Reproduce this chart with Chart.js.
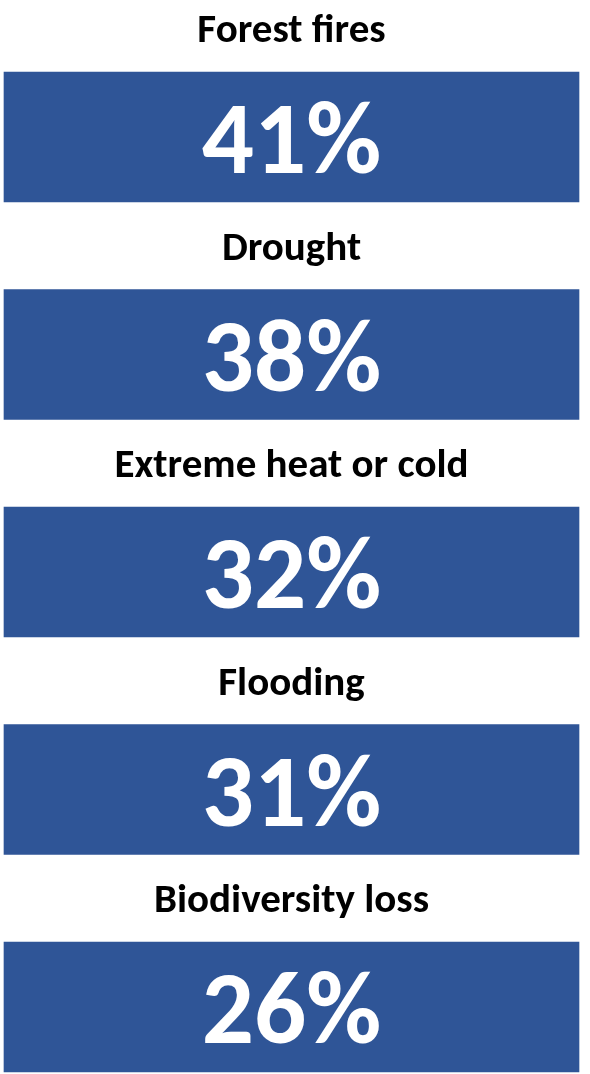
<!DOCTYPE html>
<html><head><meta charset="utf-8">
<script src="https://cdn.jsdelivr.net/npm/chart.js@4.4.1/dist/chart.umd.min.js"></script>
<style>html,body{margin:0;padding:0;background:#fff}#wrap{width:590px;height:1074px}</style>
</head><body><div id="wrap"><canvas id="c" width="590" height="1074"></canvas></div>
<script>
const categories = ["Forest fires","Drought","Extreme heat or cold","Flooding","Biodiversity loss"];
const percentValues = [41, 38, 32, 31, 26];
const tileSpan = [100, 100, 100, 100, 100];
const valueLabels = ["41%","38%","32%","31%","26%"];

const FONT = "Carlito, Lato, 'Open Sans', sans-serif";

const labelPlugin = {
  id: 'tileLabels',
  afterDatasetsDraw(chart) {
    const ctx = chart.ctx;
    const meta = chart.getDatasetMeta(0);
    meta.data.forEach((bar, i) => {
      const cx = (bar.base + bar.x) / 2;
      const cy = bar.y;
      const h = bar.height;
      ctx.save();
      ctx.textAlign = 'center';
      ctx.textBaseline = 'alphabetic';
      ctx.fillStyle = '#000000';
      ctx.font = "bold 41px " + FONT;
      ctx.fillText(categories[i], cx, cy - h / 2 - 30);
      ctx.fillStyle = '#ffffff';
      ctx.font = "bold 103px " + FONT;
      ctx.fillText(valueLabels[i], cx, cy + 36);
      ctx.restore();
    });
  }
};

new Chart(document.getElementById('c'), {
  type: 'bar',
  data: {
    labels: categories,
    datasets: [{
      data: tileSpan,
      percent: percentValues,
      backgroundColor: '#2F5597',
      borderWidth: 0,
      barThickness: 130,
      clip: false
    }]
  },
  options: {
    indexAxis: 'y',
    responsive: false,
    animation: false,
    devicePixelRatio: 1,
    layout: { padding: { top: 137, bottom: 67, left: 4, right: 11 } },
    plugins: { legend: { display: false }, tooltip: { enabled: false } },
    scales: {
      x: { display: false, min: 0, max: 100 },
      y: { display: false, offset: false }
    }
  },
  plugins: [labelPlugin]
});
</script>
</body></html>
